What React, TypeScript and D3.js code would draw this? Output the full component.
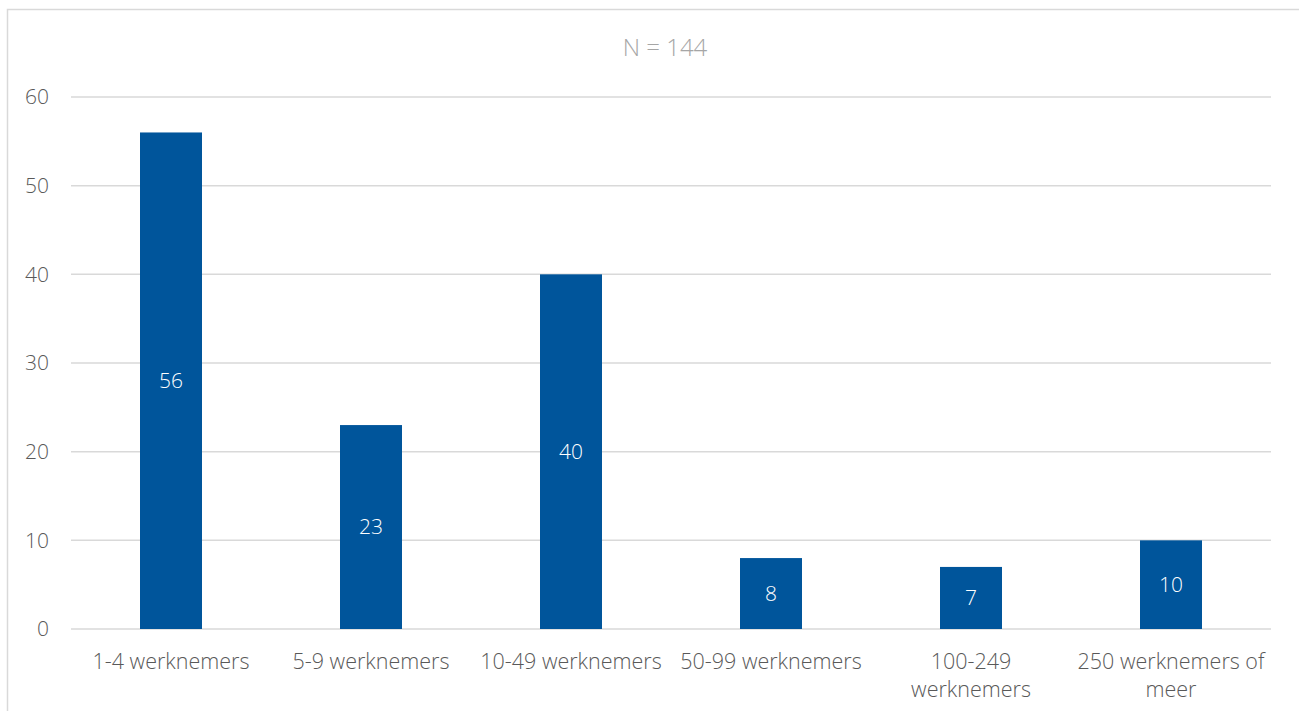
import React from "react";
import * as d3 from "d3";

const categories = [
  ["1-4 werknemers"],
  ["5-9 werknemers"],
  ["10-49 werknemers"],
  ["50-99 werknemers"],
  ["100-249", "werknemers"],
  ["250 werknemers of", "meer"],
];
const values = [56, 23, 40, 8, 7, 10];
const yTicks = [0, 10, 20, 30, 40, 50, 60];
const title = "N = 144";

export default function App() {
  const W = 1299, H = 711;
  const left = 71, right = 1271, top = 97, bottom = 629;
  const x = d3.scaleBand<number>().domain(d3.range(values.length)).range([left, right]).paddingInner(0.69).paddingOuter(0.345);
  const y = d3.scaleLinear().domain([0, 60]).range([bottom, top]);
  const font = "'Open Sans', 'Segoe UI', sans-serif";
  return (
    <div style={{ position: "fixed", left: 0, top: 0, width: W, height: H, background: "#fff" }}>
      <svg width={W} height={H} style={{ display: "block" }} fontFamily={font} fontWeight={300}>
        <rect x={7.5} y={9.5} width={W + 10} height={H + 10} fill="none" stroke="#d9d9d9" strokeWidth={1.5} />
        <text x={665} y={48} dy="0.35em" textAnchor="middle" fontSize={24} fill="#a6a6a6">{title}</text>
        {yTicks.map((t) => (
          <g key={t}>
            <line x1={left} x2={right} y1={y(t)} y2={y(t)} stroke="#d9d9d9" strokeWidth={1.5} />
            <text x={49} y={y(t)} dy="0.35em" textAnchor="end" fontSize={21} fill="#595959">{t}</text>
          </g>
        ))}
        {values.map((v, i) => {
          const bx = x(i)!;
          const bw = x.bandwidth();
          return (
            <g key={i}>
              <rect x={bx} y={y(v)} width={bw} height={y(0) - y(v)} fill="#00559b" />
              <text x={bx + bw / 2} y={(y(v) + y(0)) / 2} dy="0.35em" textAnchor="middle" fontSize={21} fill="#ffffff">{v}</text>
            </g>
          );
        })}
        {categories.map((lines, i) => {
          const cx = x(i)! + x.bandwidth() / 2;
          return (
            <text key={i} x={cx} y={661} textAnchor="middle" fontSize={21.5} fill="#595959">
              {lines.map((l, j) => (
                <tspan key={j} x={cx} dy={j === 0 ? "0.35em" : 28}>{l}</tspan>
              ))}
            </text>
          );
        })}
      </svg>
    </div>
  );
}
